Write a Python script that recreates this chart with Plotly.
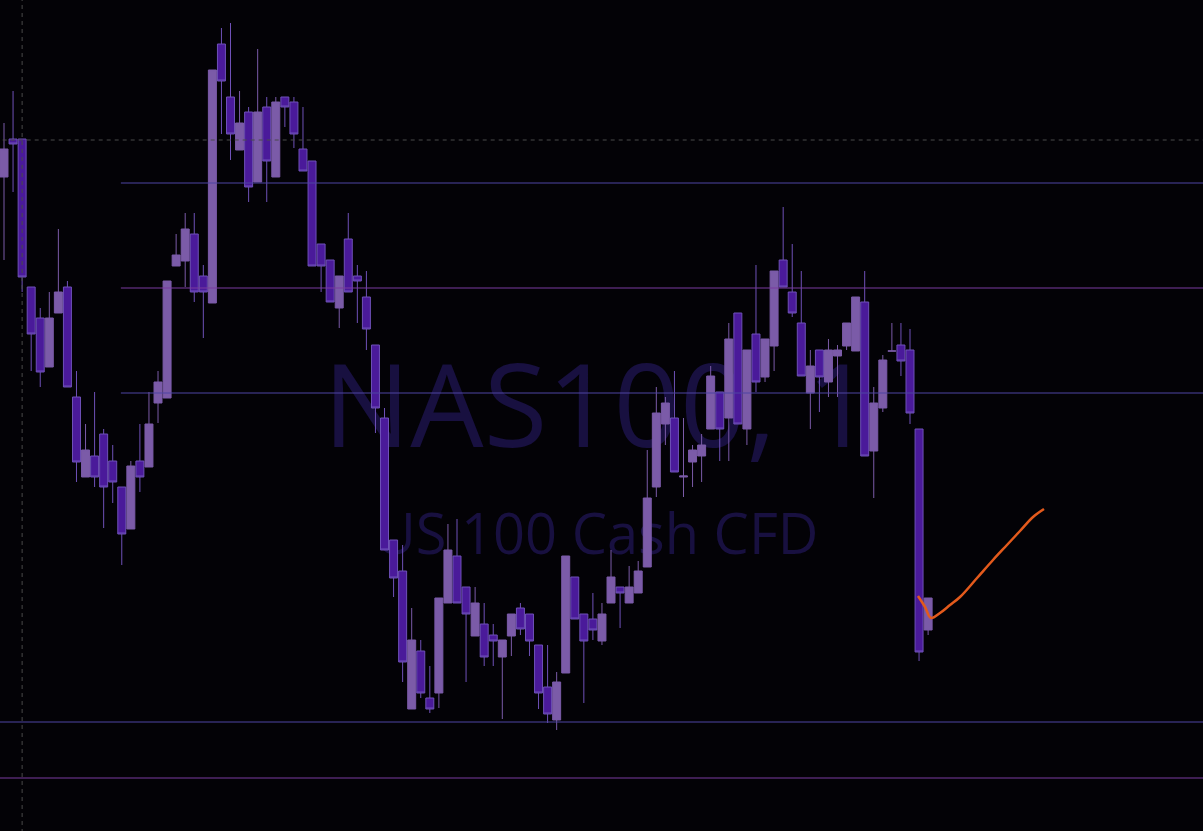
import plotly.graph_objects as go

# ---- data (NAS100, 1-minute) ----
idx = list(range(103))
opens = [19823, 19861, 19861, 19713, 19682, 19633, 19687, 19713, 19603, 19523,
         19544, 19566, 19539, 19513, 19471, 19539, 19533, 19597, 19602, 19734,
         19739, 19766, 19724, 19697, 19956, 19903, 19850, 19888, 19818, 19893,
         19823, 19903, 19898, 19851, 19839, 19756, 19740, 19692, 19761, 19724,
         19703, 19655, 19582, 19460, 19429, 19291, 19349, 19302, 19307, 19397,
         19444, 19413, 19364, 19376, 19365, 19343, 19364, 19392, 19386, 19355,
         19313, 19280, 19327, 19423, 19386, 19381, 19359, 19397, 19413, 19397,
         19407, 19433, 19513, 19576, 19582, 19523, 19538, 19544, 19571, 19608,
         19582, 19687, 19571, 19666, 19623, 19654, 19740, 19708, 19677, 19607,
         19650, 19618, 19644, 19654, 19649, 19698, 19549, 19592, 19649, 19655,
         19650, 19571, 19370]
highs = [19877, 19909, 19861, 19713, 19692, 19708, 19771, 19719, 19629, 19576,
         19608, 19571, 19555, 19513, 19539, 19576, 19608, 19629, 19719, 19766,
         19787, 19787, 19735, 19930, 19972, 19977, 19909, 19893, 19951, 19903,
         19903, 19903, 19903, 19893, 19839, 19756, 19740, 19724, 19787, 19735,
         19729, 19655, 19592, 19460, 19455, 19392, 19360, 19334, 19402, 19476,
         19481, 19413, 19413, 19397, 19376, 19360, 19386, 19397, 19386, 19355,
         19355, 19328, 19444, 19423, 19386, 19407, 19397, 19450, 19413, 19434,
         19439, 19550, 19613, 19603, 19629, 19582, 19555, 19566, 19634, 19608,
         19677, 19687, 19650, 19735, 19661, 19729, 19793, 19756, 19729, 19650,
         19650, 19661, 19655, 19677, 19703, 19729, 19613, 19645, 19677, 19677,
         19671, 19571, 19402]
lows = [19740, 19808, 19708, 19629, 19613, 19633, 19687, 19613, 19518, 19523,
        19513, 19472, 19497, 19435, 19471, 19508, 19533, 19577, 19602, 19734,
        19713, 19698, 19662, 19697, 19866, 19840, 19850, 19798, 19818, 19798,
        19823, 19873, 19852, 19829, 19734, 19708, 19698, 19672, 19708, 19677,
        19650, 19567, 19450, 19403, 19318, 19291, 19302, 19287, 19292, 19397,
        19397, 19318, 19364, 19334, 19334, 19281, 19344, 19365, 19344, 19291,
        19277, 19270, 19327, 19381, 19297, 19360, 19355, 19397, 19372, 19397,
        19407, 19433, 19503, 19555, 19528, 19503, 19513, 19518, 19571, 19539,
        19539, 19576, 19555, 19608, 19618, 19629, 19713, 19683, 19624, 19571,
        19588, 19603, 19603, 19650, 19649, 19544, 19502, 19588, 19649, 19624,
        19576, 19339, 19365]
closes = [19851, 19856, 19723, 19666, 19628, 19682, 19708, 19613, 19538, 19550,
          19523, 19513, 19518, 19466, 19534, 19523, 19576, 19618, 19719, 19745,
          19771, 19708, 19708, 19930, 19919, 19866, 19877, 19813, 19888, 19839,
          19898, 19893, 19866, 19829, 19734, 19734, 19698, 19724, 19708, 19719,
          19671, 19592, 19450, 19422, 19338, 19360, 19307, 19291, 19402, 19450,
          19397, 19386, 19397, 19343, 19359, 19360, 19386, 19371, 19359, 19307,
          19286, 19318, 19444, 19381, 19359, 19370, 19386, 19423, 19407, 19413,
          19429, 19502, 19587, 19597, 19528, 19524, 19550, 19555, 19624, 19571,
          19661, 19576, 19650, 19618, 19661, 19729, 19713, 19687, 19624, 19634,
          19623, 19650, 19650, 19677, 19703, 19544, 19597, 19640, 19649, 19639,
          19587, 19348, 19402]

# horizontal levels
levels_upper = [19817, 19712, 19607]      # drawn from bar ~13 to the right edge
levels_upper_kind = ["blue", "magenta", "blue"]
levels_lower = [19278, 19222]             # drawn across the full width
levels_lower_kind = ["blue", "magenta"]
upper_start = 12.9
crosshair_price = 19860
crosshair_bar = 2

# projected path (orange)
path_x = [100.88, 101.66, 102.32, 103.31, 104.42, 105.52, 107.4, 109.16, 110.7, 112.14, 113.58, 114.79]
path_y = [19404, 19393, 19382, 19387, 19395, 19403, 19422, 19440, 19455, 19469, 19483, 19491]

title_main = "NAS100, 1"
title_sub = "US 100 Cash CFD"

# ---- styles ----
BG = "#030206"
UP_FILL = "#7b5ba8"
UP_LINE = "#7b5ba8"
DN_FILL = "#4a1a9a"
DN_LINE = "#6f51b8"
LINE_COL = {"blue": "#4e44a3", "magenta": "#7a3b9f"}
WATERMARK = "#181040"

XR = [-0.4415, 132.34]
YR = [19169, 20000]

fig = go.Figure()

# watermark on base subplot (drawn beneath the overlaid candle subplot)
fig.add_trace(go.Scatter(
    x=[0.497, 0.496], y=[0.497, 0.35], mode="text",
    text=[title_main, title_sub],
    textfont=dict(family="Open Sans", size=[116, 56], color=WATERMARK),
    hoverinfo="skip", showlegend=False, xaxis="x", yaxis="y"))

fig.add_trace(go.Candlestick(
    x=idx, open=opens, high=highs, low=lows, close=closes,
    increasing=dict(fillcolor=UP_FILL, line=dict(color=UP_LINE, width=1)),
    decreasing=dict(fillcolor=DN_FILL, line=dict(color=DN_LINE, width=1)),
    whiskerwidth=0, showlegend=False, xaxis="x2", yaxis="y2"))

for p, k in zip(levels_upper, levels_upper_kind):
    fig.add_trace(go.Scatter(x=[upper_start, XR[1] + 5], y=[p, p], mode="lines",
                             line=dict(color=LINE_COL[k], width=1),
                             hoverinfo="skip", showlegend=False, xaxis="x2", yaxis="y2"))
for p, k in zip(levels_lower, levels_lower_kind):
    fig.add_trace(go.Scatter(x=[XR[0] - 5, XR[1] + 5], y=[p, p], mode="lines",
                             line=dict(color=LINE_COL[k], width=1),
                             hoverinfo="skip", showlegend=False, xaxis="x2", yaxis="y2"))

# crosshair
fig.add_trace(go.Scatter(x=[XR[0] - 5, XR[1] + 5], y=[crosshair_price, crosshair_price],
                         mode="lines", line=dict(color="#4a4a4a", width=1, dash="4px,4px"),
                         hoverinfo="skip", showlegend=False, xaxis="x2", yaxis="y2"))
fig.add_trace(go.Scatter(x=[crosshair_bar, crosshair_bar], y=[YR[0] - 50, YR[1] + 50],
                         mode="lines", line=dict(color="#4a4a4a", width=1, dash="4px,4px"),
                         hoverinfo="skip", showlegend=False, xaxis="x2", yaxis="y2"))

fig.add_trace(go.Scatter(x=path_x, y=path_y, mode="lines",
                         line=dict(color="#e35a1c", width=2.5, shape="spline", smoothing=1),
                         hoverinfo="skip", showlegend=False, xaxis="x2", yaxis="y2"))

ax_hidden = dict(visible=False, showgrid=False, zeroline=False, fixedrange=True)
fig.update_layout(
    width=1203, height=831,
    margin=dict(l=0, r=0, t=0, b=0),
    paper_bgcolor=BG, plot_bgcolor=BG,
    boxgap=0.12, boxgroupgap=0,
    xaxis=dict(range=[0, 1], **ax_hidden),
    yaxis=dict(range=[0, 1], **ax_hidden),
    xaxis2=dict(range=XR, overlaying="x", rangeslider=dict(visible=False), **ax_hidden),
    yaxis2=dict(range=YR, overlaying="y", **ax_hidden),
    showlegend=False,
)

fig.write_html(
    "out.html",
    config={"displayModeBar": False},
    post_script="document.body.style.margin='0';document.body.style.background='" + BG + "';document.body.style.overflow='hidden';",
)
